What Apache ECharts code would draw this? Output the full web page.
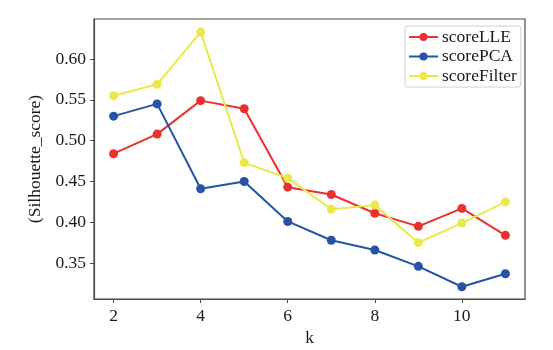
<!DOCTYPE html>
<html>
<head>
<meta charset="utf-8">
<script src="https://cdn.jsdelivr.net/npm/echarts@6/dist/echarts.min.js"></script>
<style>
  html, body { margin: 0; padding: 0; background: #fff; }
  #chart { width: 553px; height: 350px; }
</style>
</head>
<body>
<div id="chart"></div>
<script>
// Cluster counts k and silhouette scores for each reduction method
const kValues = [2, 3, 4, 5, 6, 7, 8, 9, 10, 11];
const scoreLLE = [0.484, 0.508, 0.549, 0.539, 0.443, 0.434, 0.411, 0.395, 0.417, 0.384];
const scorePCA = [0.530, 0.545, 0.441, 0.450, 0.401, 0.378, 0.366, 0.346, 0.321, 0.337];
const scoreFilter = [0.555, 0.569, 0.633, 0.473, 0.454, 0.416, 0.421, 0.375, 0.399, 0.425];
const xTicks = [2, 4, 6, 8, 10];
const yTicks = [0.35, 0.40, 0.45, 0.50, 0.55, 0.60];

const FONT = "'Liberation Serif', 'DejaVu Serif', serif";
const TEXT = '#1a1a1a';
const SPINE = '#4a4a4a';

function pairs(vals) {
  return kValues.map((k, i) => [k, vals[i]]);
}

function lineSeries(name, vals, color) {
  return {
    name: name,
    type: 'line',
    data: pairs(vals),
    symbol: 'circle',
    symbolSize: 9,
    showSymbol: true,
    lineStyle: { width: 2, color: color },
    itemStyle: { color: color },
    emphasis: { disabled: true },
    z: 3
  };
}

const chart = echarts.init(document.getElementById('chart'), null, { renderer: 'canvas' });
chart.setOption({
  animation: false,
  backgroundColor: '#ffffff',
  textStyle: { fontFamily: FONT },
  grid: {
    left: 94, right: 28, top: 19, bottom: 51,
    outerBoundsMode: 'none',
    containLabel: false,
    show: true, borderColor: SPINE, borderWidth: 1.2, backgroundColor: 'transparent'
  },
  legend: {
    orient: 'vertical',
    left: 405, top: 26,
    padding: [2, 4, 2, 3],
    itemGap: 1.5,
    itemWidth: 29,
    itemHeight: 10,
    backgroundColor: '#ffffff',
    borderColor: '#d0d0d0',
    borderWidth: 1,
    borderRadius: 2,
    textStyle: { fontFamily: FONT, fontSize: 17.5, color: TEXT, padding: [0, 0, 0, -1] },
    data: ['scoreLLE', 'scorePCA', 'scoreFilter']
  },
  xAxis: {
    type: 'value',
    min: 1.55, max: 11.45,
    name: 'k',
    nameLocation: 'middle',
    nameGap: 23,
    nameTextStyle: { fontFamily: FONT, fontSize: 17.5, color: TEXT },
    splitLine: { show: false },
    axisLine: { show: true, lineStyle: { color: SPINE, width: 1.2 } },
    axisTick: { show: true, length: 4, lineStyle: { color: SPINE }, customValues: xTicks },
    axisLabel: {
      fontFamily: FONT, fontSize: 17.5, color: TEXT, margin: 8,
      customValues: xTicks,
      formatter: v => String(v)
    }
  },
  yAxis: {
    type: 'value',
    min: 0.306, max: 0.649,
    name: '(Silhouette_score)',
    nameLocation: 'middle',
    nameGap: 49,
    nameRotate: 90,
    nameTextStyle: { fontFamily: FONT, fontSize: 17.5, color: TEXT },
    splitLine: { show: false },
    axisLine: { show: true, lineStyle: { color: SPINE, width: 1.2 } },
    axisTick: { show: true, length: 4, lineStyle: { color: SPINE }, customValues: yTicks },
    axisLabel: {
      fontFamily: FONT, fontSize: 17.5, color: TEXT, margin: 8,
      customValues: yTicks,
      formatter: v => v.toFixed(2)
    }
  },
  series: [
    lineSeries('scoreLLE', scoreLLE, '#ec2f2f'),
    lineSeries('scorePCA', scorePCA, '#2453a8'),
    lineSeries('scoreFilter', scoreFilter, '#ebe84a')
  ]
});
</script>
</body>
</html>
